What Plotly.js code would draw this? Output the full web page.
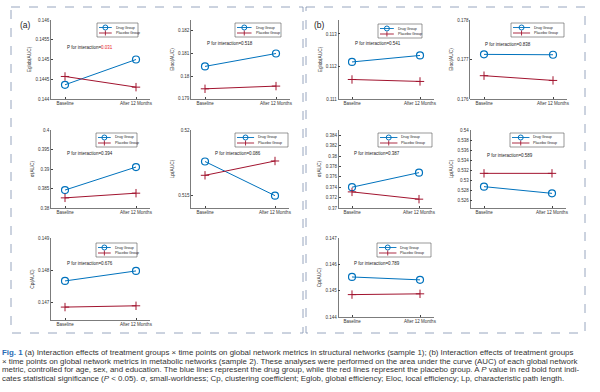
<!DOCTYPE html>
<html>
<head>
<meta charset="utf-8">
<script src="https://cdn.plot.ly/plotly-3.0.1.min.js"></script>
<style>html,body{margin:0;padding:0;background:#fff;}#chart{width:600px;height:392px;}</style>
</head>
<body>
<div id="chart"></div>
<script>
// ---- data ----
const timePoints = ["Baseline", "After 12 Months"];
const groupNames = ["Drug Group", "Placebo Group"];
// (a) structural networks, sample 1
const a_Eglob_drug = [0.14436, 0.14500];
const a_Eglob_placebo = [0.14457, 0.14430];
const a_Eloc_drug = [0.18043, 0.18100];
const a_Eloc_placebo = [0.17944, 0.17956];
const a_Sigma_drug = [0.3846, 0.3905];
const a_Sigma_placebo = [0.3826, 0.3838];
const a_Lp_drug = [0.5176, 0.5150];
const a_Lp_placebo = [0.51655, 0.51764];
const a_Cp_drug = [0.14767, 0.14798];
const a_Cp_placebo = [0.14686, 0.14690];
// (b) metabolic networks, sample 2
const b_Eglob_drug = [0.11214, 0.11234];
const b_Eglob_placebo = [0.11160, 0.11154];
const b_Eloc_drug = [0.17713, 0.17712];
const b_Eloc_placebo = [0.17659, 0.17647];
const b_Sigma_drug = [0.3740, 0.3768];
const b_Sigma_placebo = [0.3731, 0.3717];
const b_Lp_drug = [0.52867, 0.52733];
const b_Lp_placebo = [0.53133, 0.53133];
const b_Cp_drug = [0.14552, 0.14541];
const b_Cp_placebo = [0.14485, 0.14488];
const metricTitles = ["Eglob(AUC)", "Eloc(AUC)", "σ(AUC)", "Lp(AUC)", "Cp(AUC)"];
const pValues = ["0.031", "0.518", "0.394", "0.086", "0.676", "0.541", "0.838", "0.387", "0.589", "0.789"];
const pSignificant = [true, false, false, false, false, false, false, false, false, false];

// ---- layout helpers ----
const W = 600, H = 392;
const fx = p => p / W;
const fy = p => 1 - p / H;
const BLUE = "#0072BD", RED = "#A2142F";

const panels = [
  {L:65, R:136, top:20, bot:99, yr:[0.144,0.146], dt:0.0005, t:0, drug:a_Eglob_drug, plc:a_Eglob_placebo, px:65, py:47, leg:[97,23,138]},
  {L:205, R:276, top:20, bot:99, yr:[0.17899,0.18248], dt:0.001, t:1, drug:a_Eloc_drug, plc:a_Eloc_placebo, px:205, py:43, leg:[235,23,281]},
  {L:65, R:136, top:130, bot:208, yr:[0.38,0.4], dt:0.005, t:2, drug:a_Sigma_drug, plc:a_Sigma_placebo, px:65, py:153, leg:[96,133,137]},
  {L:205, R:275, top:130, bot:208, yr:[0.51406,0.52], dt:0.005, t:3, drug:a_Lp_drug, plc:a_Lp_placebo, px:213, py:154, leg:[235,133,288]},
  {L:65, R:136, top:238, bot:320, yr:[0.14646,0.149], dt:0.001, t:4, drug:a_Cp_drug, plc:a_Cp_placebo, px:65, py:263, leg:[96,243,137]},
  {L:352, R:420, top:20, bot:99, yr:[0.111,0.11343], dt:0.001, t:0, drug:b_Eglob_drug, plc:b_Eglob_placebo, px:353, py:43, leg:[378,24,422]},
  {L:484, R:553, top:20, bot:99, yr:[0.176,0.178], dt:0.001, t:1, drug:b_Eloc_drug, plc:b_Eloc_placebo, px:483, py:45, leg:[511,23,564]},
  {L:352, R:419, top:130, bot:208, yr:[0.37,0.385], dt:0.002, t:2, drug:b_Sigma_drug, plc:b_Sigma_placebo, px:352, py:153, leg:[378,133,432]},
  {L:484, R:552, top:130, bot:208, yr:[0.5244,0.54], dt:0.002, t:3, drug:b_Lp_drug, plc:b_Lp_placebo, px:485, py:155, leg:[510,133,564]},
  {L:352, R:420, top:238, bot:317, yr:[0.144,0.147], dt:0.001, t:4, drug:b_Cp_drug, plc:b_Cp_placebo, px:352, py:263, leg:[377,243,431]}
];

const traces = [];
const layout = {
  width: W, height: H,
  margin: {l:0, r:0, t:0, b:0},
  paper_bgcolor: "#fff", plot_bgcolor: "#fff",
  showlegend: false,
  font: {family: "Liberation Sans, Arial, sans-serif", color: "#222"},
  shapes: [], annotations: []
};

const PAD = 0.2;
panels.forEach((p, i) => {
  const n = i + 1;
  const xa = "x" + (n === 1 ? "" : n), ya = "y" + (n === 1 ? "" : n);
  const s = p.R - p.L;
  const x0 = p.L - PAD * s, x1 = p.R + PAD * s;
  traces.push({
    x: timePoints, y: p.drug, xaxis: xa, yaxis: ya, name: groupNames[0],
    type: "scatter", mode: "lines+markers",
    line: {color: BLUE, width: 1},
    marker: {symbol: "circle-open", size: 7, color: BLUE, line: {width: 1.2, color: BLUE}}
  });
  traces.push({
    x: timePoints, y: p.plc, xaxis: xa, yaxis: ya, name: groupNames[1],
    type: "scatter", mode: "lines+markers",
    line: {color: RED, width: 1},
    marker: {symbol: "cross-thin-open", size: 6, color: RED, line: {width: 1, color: RED}}
  });
  const xname = "xaxis" + (n === 1 ? "" : n), yname = "yaxis" + (n === 1 ? "" : n);
  layout[xname] = {
    domain: [fx(x0), fx(x1)], anchor: ya, type: "category", range: [-PAD, 1 + PAD],
    showline: true, linecolor: "#444", linewidth: 0.7, ticks: "inside", ticklen: 2, tickcolor: "#444",
    tickfont: {size: 4.5, color: "#333"}, showgrid: false, zeroline: false, fixedrange: true
  };
  layout[yname] = {
    domain: [fy(p.bot), fy(p.top)], anchor: xa, range: p.yr, tick0: 0, dtick: p.dt,
    showline: true, linecolor: "#444", linewidth: 0.7, ticks: "inside", ticklen: 2, tickcolor: "#444",
    tickfont: {size: 4.5, color: "#333"}, showgrid: false, zeroline: false, fixedrange: true,
    title: {text: metricTitles[p.t], font: {size: 4.8, color: "#333"}, standoff: 3}
  };
  // P annotation
  const pv = pSignificant[i] ? '<span style="color:#e8202a">' + pValues[i] + '</span>' : pValues[i];
  layout.annotations.push({
    xref: "paper", yref: "paper", x: fx(p.px), y: fy(p.py), xanchor: "left", yanchor: "middle",
    text: "P for interaction=" + pv, showarrow: false, font: {size: 4.5, color: "#222"}
  });
  // legend box
  const [lx0, ly0, lx1] = p.leg;
  const ly1 = ly0 + 14, w = lx1 - lx0;
  layout.shapes.push({type: "rect", xref: "paper", yref: "paper", x0: fx(lx0), x1: fx(lx1), y0: fy(ly0), y1: fy(ly1),
    line: {color: "#555", width: 0.6}, fillcolor: "#fff"});
  const sx0 = lx0 + 2, sx1 = lx0 + 0.36 * w, mx = (sx0 + sx1) / 2;
  const r1 = ly0 + 4.5, r2 = ly0 + 10;
  layout.shapes.push({type: "line", xref: "paper", yref: "paper", x0: fx(sx0), x1: fx(sx1), y0: fy(r1), y1: fy(r1), line: {color: BLUE, width: 0.9}});
  layout.shapes.push({type: "circle", xref: "paper", yref: "paper", x0: fx(mx - 2.5), x1: fx(mx + 2.5), y0: fy(r1 - 2.5), y1: fy(r1 + 2.5), line: {color: BLUE, width: 1}, fillcolor: "rgba(0,0,0,0)"});
  layout.shapes.push({type: "line", xref: "paper", yref: "paper", x0: fx(sx0), x1: fx(sx1), y0: fy(r2), y1: fy(r2), line: {color: RED, width: 0.9}});
  layout.shapes.push({type: "line", xref: "paper", yref: "paper", x0: fx(mx), x1: fx(mx), y0: fy(r2 - 2.5), y1: fy(r2 + 2.5), line: {color: RED, width: 0.9}});
  layout.annotations.push({xref: "paper", yref: "paper", x: fx(sx1 + 2), y: fy(r1), xanchor: "left", yanchor: "middle", text: groupNames[0], showarrow: false, font: {size: 3.6, color: "#222"}});
  layout.annotations.push({xref: "paper", yref: "paper", x: fx(sx1 + 2), y: fy(r2), xanchor: "left", yanchor: "middle", text: groupNames[1], showarrow: false, font: {size: 3.6, color: "#222"}});
});

// panel frames and labels
const dashC = "#7d8fae";
layout.shapes.push({type: "rect", xref: "paper", yref: "paper", x0: fx(11), x1: fx(303), y0: fy(7), y1: fy(333), line: {color: dashC, width: 0.8, dash: "dash"}});
layout.shapes.push({type: "rect", xref: "paper", yref: "paper", x0: fx(306), x1: fx(585), y0: fy(7), y1: fy(333), line: {color: dashC, width: 0.8, dash: "dash"}});
layout.annotations.push({xref: "paper", yref: "paper", x: fx(18), y: fy(25), xanchor: "left", yanchor: "middle", text: "(a)", showarrow: false, font: {size: 8.5, color: "#222"}});
layout.annotations.push({xref: "paper", yref: "paper", x: fx(312), y: fy(25), xanchor: "left", yanchor: "middle", text: "(b)", showarrow: false, font: {size: 8.5, color: "#222"}});

// caption
const captionLines = [
  '<b style="color:#2a6db5">Fig. 1</b> (a) Interaction effects of treatment groups × time points on global network metrics in structural networks (sample 1); (b) Interaction effects of treatment groups',
  '× time points on global network metrics in metabolic networks (sample 2). These analyses were performed on the area under the curve (AUC) of each global network',
  'metric, controlled for age, sex, and education. The blue lines represent the drug group, while the red lines represent the placebo group. A <i>P</i> value in red bold font indi-',
  'cates statistical significance (<i>P</i> &lt; 0.05). σ, small-worldness; Cp, clustering coefficient; Eglob, global efficiency; Eloc, local efficiency; Lp, characteristic path length.'
];
const captionY = [352, 361, 369.5, 378];
captionLines.forEach((t, k) => {
  layout.annotations.push({xref: "paper", yref: "paper", x: 0, y: fy(captionY[k]), xanchor: "left", yanchor: "middle",
    text: t, showarrow: false, font: {size: 7.9, color: "#333", family: "Liberation Sans, Arial, sans-serif"}});
});

Plotly.newPlot("chart", traces, layout, {displayModeBar: false, staticPlot: true});
</script>
</body>
</html>
